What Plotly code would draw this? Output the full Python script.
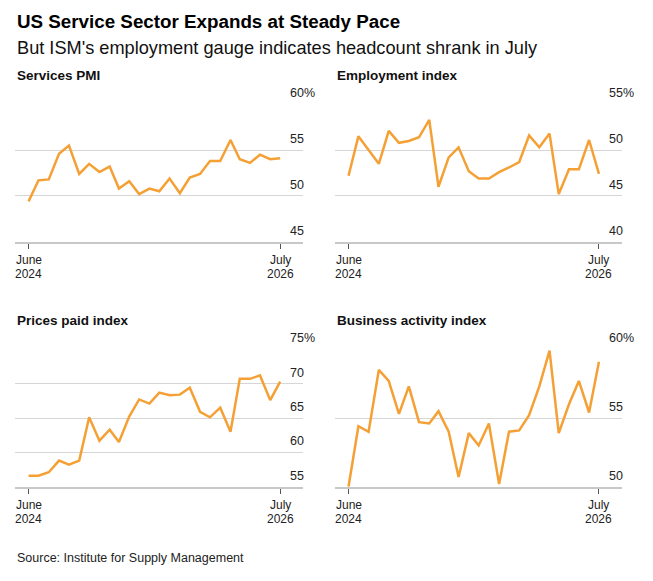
import pandas as pd
import plotly.graph_objects as go

# mois de juin 2024 a juillet 2026
months = pd.date_range("2024-06-01", "2026-07-01", freq="MS")

services_pmi = [49.4, 51.7, 51.8, 54.6, 55.5, 52.4, 53.5, 52.6, 53.2, 50.8, 51.6, 50.2, 50.8,
                50.5, 51.9, 50.3, 52.0, 52.4, 53.8, 53.8, 56.1, 54.0, 53.6, 54.5, 54.0, 54.1]
employment = [47.2, 51.5, 50.0, 48.5, 52.1, 50.8, 51.0, 51.4, 53.3, 46.0, 49.2, 50.3, 47.7,
              46.9, 46.9, 47.6, 48.1, 48.7, 51.6, 50.3, 51.8, 45.2, 47.9, 47.9, 51.1, 47.4]
prices_paid = [56.6, 56.6, 57.1, 58.8, 58.2, 58.8, 65.1, 61.7, 63.3, 61.5, 65.2, 67.7, 67.1,
               68.7, 68.3, 68.4, 69.4, 65.9, 65.1, 66.5, 63.0, 70.7, 70.7, 71.2, 67.6, 70.3]
business_activity = [50.0, 54.4, 54.0, 58.5, 57.7, 55.3, 57.3, 54.7, 54.6, 55.5, 54.0, 50.7, 53.9,
                     53.0, 54.6, 50.2, 54.0, 54.1, 55.2, 57.3, 59.9, 53.9, 56.0, 57.7, 55.4, 59.1]

panel_titles = ["Services PMI", "Employment index", "Prices paid index", "Business activity index"]
y_ticks = [[45, 50, 55, 60], [40, 45, 50, 55], [55, 60, 65, 70, 75], [50, 55, 60]]
x_tick_month = ["June", "July"]
x_tick_year = ["2024", "2026"]

series = [services_pmi, employment, prices_paid, business_activity]

# la page ajoute une marge de 8px autour du graphique
OFF = 8
W, H = 653 - OFF, 581 - OFF
font = "Liberation Sans"
orange = "#F5A035"


def px(x):
    return (x - OFF) / W


def py(y):
    return (H - (y - OFF)) / H


# positions des panneaux en pixels (gauche, droite, haut, bas)
boxes = [(15, 303, 104.3, 241.7), (335, 621.7, 104.3, 241.7),
         (15, 303, 349.3, 486.7), (335, 621.7, 349.3, 486.7)]

fig = go.Figure()
annotations = []

for i, (vals, ticks, title, box) in enumerate(zip(series, y_ticks, panel_titles, boxes)):
    n = "" if i == 0 else str(i + 1)
    l, r, t, b = box
    fig.add_trace(go.Scatter(
        x=months, y=vals, mode="lines",
        line=dict(color=orange, width=2.5),
        xaxis="x" + n, yaxis="y" + n,
        showlegend=False, hoverinfo="x+y",
    ))
    fig.layout["xaxis" + n] = dict(
        domain=[px(l), px(r)], anchor="y" + n,
        range=["2024-04-21", "2026-09-08"],
        tickvals=[months[0], months[-1]], ticktext=["", ""],
        ticks="outside", ticklen=5, tickwidth=1, tickcolor="#555",
        showline=True, linecolor="#c8c8c8", linewidth=2,
        showgrid=False, zeroline=False,
    )
    fig.layout["yaxis" + n] = dict(
        domain=[py(b), py(t)], anchor="x" + n,
        range=[ticks[0], ticks[-1]],
        tickvals=ticks[1:], showticklabels=False,
        showgrid=True, gridcolor="#d6d6d6", gridwidth=1, zeroline=False,
    )
    # etiquettes de l'axe x (mois / annee)
    for d, m, yr in zip([months[0], months[-1]], x_tick_month, x_tick_year):
        annotations.append(dict(
            x=d, xref="x" + n, y=py(b + 18.5), yref="paper", yanchor="middle",
            text=m, showarrow=False, borderpad=0,
            font=dict(size=12, color="#222", family=font),
        ))
        annotations.append(dict(
            x=d, xref="x" + n, y=py(b + 32.5), yref="paper", yanchor="middle",
            text=yr, showarrow=False, borderpad=0,
            font=dict(size=12, color="#222", family=font),
        ))
    # etiquettes de l'axe y au-dessus des lignes
    for k, v in enumerate(ticks):
        label = f"{v}%" if k == len(ticks) - 1 else str(v)
        annotations.append(dict(
            x=px(r - 15), xref="paper", xanchor="left",
            y=v, yref="y" + n, yanchor="middle", yshift=11,
            text=label, showarrow=False,
            font=dict(size=12.5, color="#222", family=font),
        ))
    annotations.append(dict(
        x=px(l), xref="paper", xanchor="left",
        y=py(t - 28.5), yref="paper", yanchor="middle",
        text=f"<b>{title}</b>", showarrow=False,
        font=dict(size=13.5, color="#111", family=font),
    ))

annotations.append(dict(
    x=px(15), xref="paper", xanchor="left", y=py(21), yref="paper", yanchor="middle",
    text="<b>US Service Sector Expands at Steady Pace</b>", showarrow=False,
    font=dict(size=18.8, color="#000", family=font),
))
annotations.append(dict(
    x=px(15), xref="paper", xanchor="left", y=py(48), yref="paper", yanchor="middle",
    text="But ISM's employment gauge indicates headcount shrank in July", showarrow=False,
    font=dict(size=18.2, color="#111", family=font),
))
annotations.append(dict(
    x=px(15), xref="paper", xanchor="left", y=py(558), yref="paper", yanchor="middle",
    text="Source: Institute for Supply Management", showarrow=False,
    font=dict(size=12.5, color="#222", family=font),
))

fig.update_layout(
    width=W, height=H,
    margin=dict(l=0, r=0, t=0, b=0),
    paper_bgcolor="white", plot_bgcolor="white",
    annotations=annotations,
)

fig.write_html("out.html")
